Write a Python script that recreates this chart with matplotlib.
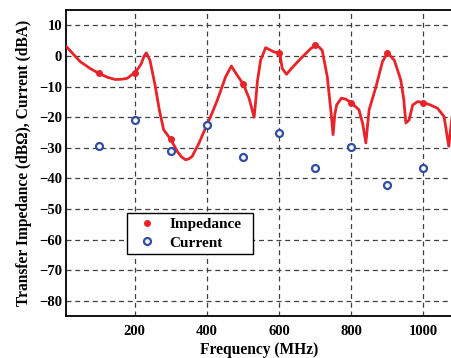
import matplotlib
matplotlib.use("Agg")
import matplotlib.pyplot as plt

# measured transfer impedance curve (dBOhm) versus frequency (MHz)
freq_curve = [10, 30, 49, 75, 100, 125, 146, 165, 179, 199, 210, 218, 226, 232,
              242, 257, 268, 280, 297, 308, 318, 330, 341, 350, 359, 378, 401,
              415, 429, 452, 468, 484, 501, 517, 531, 536, 540, 549, 563, 586,
              602, 609, 621, 632, 660, 688, 702, 712, 720, 734, 744, 750, 755,
              760, 773, 785, 801, 822, 832, 841, 850, 869, 887, 901, 920, 938,
              946, 952, 961, 971, 985, 1003, 1020, 1040, 1058, 1071, 1080]
imp_curve = [3.1, 0.5, -1.9, -4.0, -5.7, -7.0, -7.7, -7.6, -7.3, -5.5, -4.0, -2.5,
             0.0, 1.0, -1.4, -10.0, -17.6, -24.1, -26.8, -29.0, -31.2, -33.0,
             -33.9, -33.6, -32.8, -28.5, -22.2, -18.5, -14.4, -6.8, -3.3, -6.3,
             -9.2, -13.8, -20.0, -14.0, -8.4, -1.4, 2.7, 1.3, 1.0, -4.1, -6.0,
             -4.4, -0.9, 2.4, 3.5, 2.8, 1.8, -6.8, -18.0, -25.7, -19.0, -16.0,
             -13.8, -14.1, -15.3, -17.6, -22.0, -28.4, -17.6, -10.1, -1.9, 1.0,
             -1.4, -7.9, -14.0, -21.9, -20.9, -16.0, -14.9, -15.3, -16.0, -17.1,
             -19.8, -29.5, -20.0]

# sampled points every 100 MHz
freq_pts = [100, 200, 300, 400, 500, 600, 700, 800, 900, 1000]
imp_pts = [-5.7, -5.5, -27.0, -22.3, -9.2, 1.0, 3.5, -15.3, 1.0, -15.3]
cur_pts = [-29.5, -21.0, -31.0, -22.5, -33.0, -25.2, -36.6, -29.7, -42.2, -36.6]

red = '#e8242a'
blue = '#2f4ea3'

plt.rcParams['font.family'] = ['Liberation Serif', 'DejaVu Serif']
plt.rcParams['font.weight'] = 'bold'

fig = plt.figure(figsize=(4.52, 3.58), dpi=100)
ax = fig.add_axes([0.1467, 0.1165, 0.8533, 0.8556])

ax.plot(freq_curve, imp_curve, color=red, lw=2.0, zorder=3)
ax.plot(freq_pts, imp_pts, 'o', color=red, ms=4, label='Impedance', zorder=4)
ax.plot(freq_pts, cur_pts, 'o', mfc='white', mec=blue, mew=1.6, ms=5,
        label='Current', zorder=4)

ax.set_xlim(10, 1080)
ax.set_ylim(-85, 15)
ax.set_xticks([200, 400, 600, 800, 1000])
ax.set_yticks(range(-80, 11, 10))
ax.grid(True, color='0.25', linestyle=(0, (4, 3)), linewidth=0.9)
ax.tick_params(direction='in', length=0, labelsize=10.5)
ax.tick_params(axis='y', pad=3)
ax.tick_params(axis='x', pad=6)
for lbl in ax.get_xticklabels() + ax.get_yticklabels():
    lbl.set_fontweight('bold')

ax.spines['right'].set_visible(False)
for side in ['left', 'bottom', 'top']:
    ax.spines[side].set_linewidth(1.3)

ax.set_xlabel('Frequency (MHz)', fontweight='bold', fontsize=11.2, labelpad=3)
ax.set_ylabel('Transfer Impedance (dBΩ), Current (dBA)', fontweight='bold',
              fontsize=11.2, labelpad=5)

leg = ax.legend(loc='lower left', bbox_to_anchor=(0.157, 0.203, 0.327, 0.124),
                mode='expand', fancybox=False,
                edgecolor='black', framealpha=1, handlelength=2.0,
                borderpad=0.3, labelspacing=0.3, handletextpad=0.5,
                borderaxespad=0, prop={'weight': 'bold', 'size': 11})
leg.get_frame().set_linewidth(1.0)

fig.savefig('out.png', dpi=100)
